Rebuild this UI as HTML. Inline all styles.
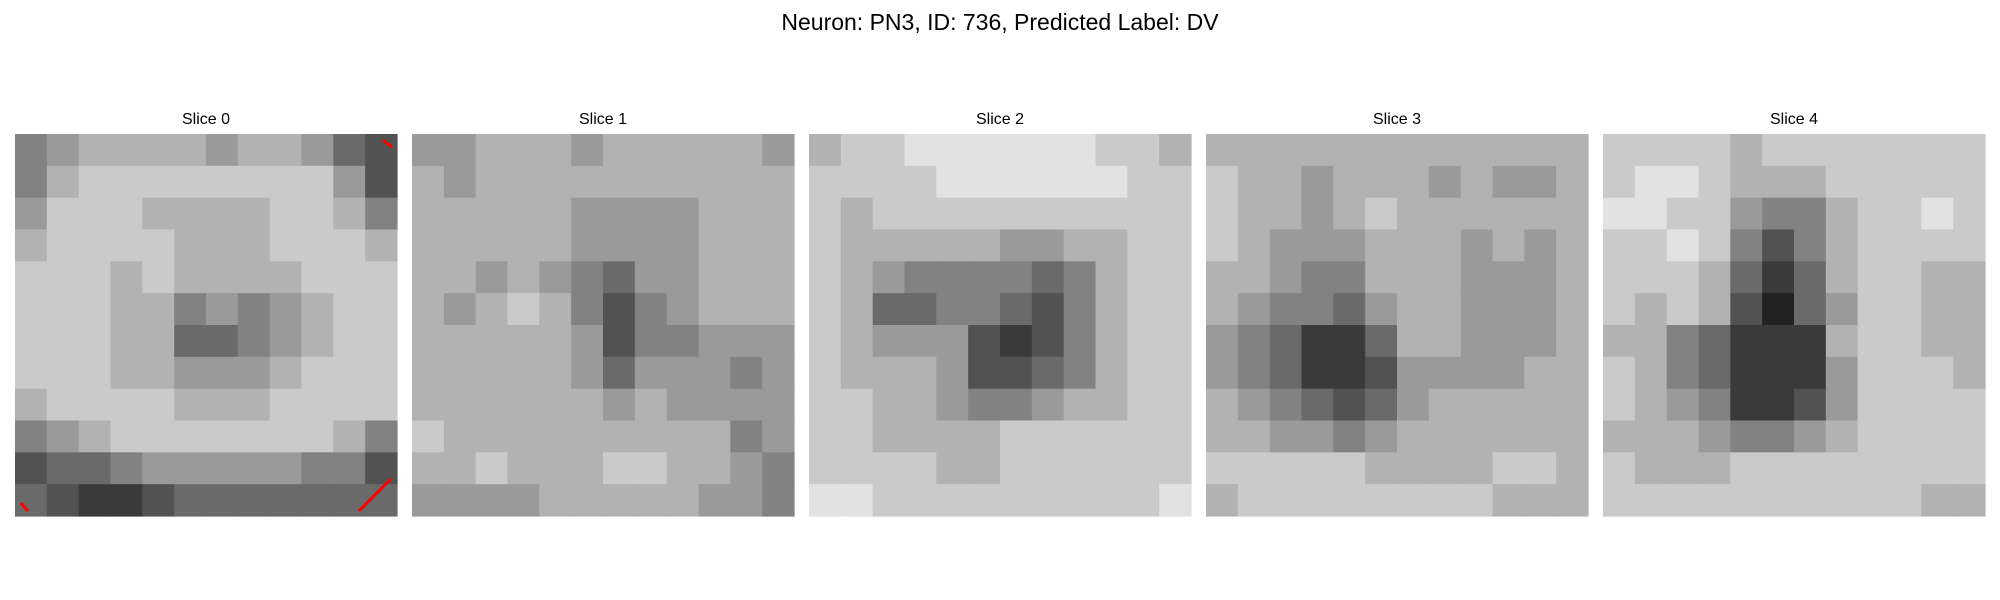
<!DOCTYPE html>
<html><head><meta charset="utf-8"><style>
html,body{margin:0;padding:0;background:#fff;width:2000px;height:600px;overflow:hidden}
</style></head><body>
<svg id="fig" width="2000" height="600" xmlns="http://www.w3.org/2000/svg" style="display:block">
<text x="1000" y="30" text-anchor="middle" font-family="Liberation Sans, DejaVu Sans, sans-serif" font-size="23" fill="#000">Neuron: PN3, ID: 736, Predicted Label: DV</text>
</svg>
<script>
const sliceTitles=["Slice 0","Slice 1","Slice 2","Slice 3","Slice 4"];
const slice0=[[5,6,7,7,7,7,6,7,7,6,4,3],[5,7,8,8,8,8,8,8,8,8,6,3],[6,8,8,8,7,7,7,7,8,8,7,5],[7,8,8,8,8,7,7,7,8,8,8,7],[8,8,8,7,8,7,7,7,7,8,8,8],[8,8,8,7,7,5,6,5,6,7,8,8],[8,8,8,7,7,4,4,5,6,7,8,8],[8,8,8,7,7,6,6,6,7,8,8,8],[7,8,8,8,8,7,7,7,8,8,8,8],[5,6,7,8,8,8,8,8,8,8,7,5],[3,4,4,5,6,6,6,6,6,5,5,3],[4,3,2,2,3,4,4,4,4,4,4,4]];
const slice1=[[6,6,7,7,7,6,7,7,7,7,7,6],[7,6,7,7,7,7,7,7,7,7,7,7],[7,7,7,7,7,6,6,6,6,7,7,7],[7,7,7,7,7,6,6,6,6,7,7,7],[7,7,6,7,6,5,4,6,6,7,7,7],[7,6,7,8,7,5,3,5,6,7,7,7],[7,7,7,7,7,6,3,5,5,6,6,6],[7,7,7,7,7,6,4,6,6,6,5,6],[7,7,7,7,7,7,6,7,6,6,6,6],[8,7,7,7,7,7,7,7,7,7,5,6],[7,7,8,7,7,7,8,8,7,7,6,5],[6,6,6,6,7,7,7,7,7,6,6,5]];
const slice2=[[7,8,8,9,9,9,9,9,9,8,8,7],[8,8,8,8,9,9,9,9,9,9,8,8],[8,7,8,8,8,8,8,8,8,8,8,8],[8,7,7,7,7,7,6,6,7,7,8,8],[8,7,6,5,5,5,5,4,5,7,8,8],[8,7,4,4,5,5,4,3,5,7,8,8],[8,7,6,6,6,3,2,3,5,7,8,8],[8,7,7,7,6,3,3,4,5,7,8,8],[8,8,7,7,6,5,5,6,7,7,8,8],[8,8,7,7,7,7,8,8,8,8,8,8],[8,8,8,8,7,7,8,8,8,8,8,8],[9,9,8,8,8,8,8,8,8,8,8,9]];
const slice3=[[7,7,7,7,7,7,7,7,7,7,7,7],[8,7,7,6,7,7,7,6,7,6,6,7],[8,7,7,6,7,8,7,7,7,7,7,7],[8,7,6,6,6,7,7,7,6,7,6,7],[7,7,6,5,5,7,7,7,6,6,6,7],[7,6,5,5,4,6,7,7,6,6,6,7],[6,5,4,2,2,4,7,7,6,6,6,7],[6,5,4,2,2,3,6,6,6,6,7,7],[7,6,5,4,3,4,6,7,7,7,7,7],[7,7,6,6,5,6,7,7,7,7,7,7],[8,8,8,8,8,7,7,7,7,8,8,7],[7,8,8,8,8,8,8,8,8,7,7,7]];
const slice4=[[8,8,8,8,7,8,8,8,8,8,8,8],[8,9,9,8,7,7,7,8,8,8,8,8],[9,9,8,8,6,5,5,7,8,8,9,8],[8,8,9,8,5,3,5,7,8,8,8,8],[8,8,8,7,4,2,4,7,8,8,7,7],[8,7,8,7,3,1,4,6,8,8,7,7],[7,7,5,4,2,2,2,7,8,8,7,7],[8,7,5,4,2,2,2,6,8,8,8,7],[8,7,6,5,2,2,3,6,8,8,8,8],[7,7,7,6,5,5,6,7,8,8,8,8],[8,7,7,7,8,8,8,8,8,8,8,8],[8,8,8,8,8,8,8,8,8,8,7,7]];
const slices=[slice0,slice1,slice2,slice3,slice4];
const NS="http://www.w3.org/2000/svg";
const svg=document.getElementById('fig');
const X0=15,STEP=397,W=382,Y0=134;
function gray(v){const g=Math.min(245,Math.round(10+v*24));return `rgb(${g},${g},${g})`;}
slices.forEach((grid,si)=>{
  const g=document.createElementNS(NS,'g');
  
  
  const px=X0+si*STEP;
  const t=document.createElementNS(NS,'text');
  
  
  t.setAttribute('x',px+W/2);t.setAttribute('y',124);
  t.setAttribute('text-anchor','middle');
  t.setAttribute('font-family','Liberation Sans, DejaVu Sans, sans-serif');
  t.setAttribute('font-size','16');
  t.textContent=sliceTitles[si];
  g.appendChild(t);
  const n=grid.length,cs=W/n;
  grid.forEach((row,r)=>row.forEach((v,c)=>{
    const rc=document.createElementNS(NS,'rect');
    
    
    rc.setAttribute('x',(px+c*cs).toFixed(2));
    rc.setAttribute('y',(Y0+r*cs).toFixed(2));
    rc.setAttribute('width',(cs+0.6).toFixed(2));
    rc.setAttribute('height',(cs+0.6).toFixed(2));
    rc.setAttribute('fill',gray(v));
    g.appendChild(rc);
  }));
  svg.appendChild(g);
});
const redLines=[[383,140,392,147],[391,479,359,511],[21,503,28,511]];
redLines.forEach(l=>{
  const ln=document.createElementNS(NS,'line');
  
  
  ln.setAttribute('x1',l[0]);ln.setAttribute('y1',l[1]);
  ln.setAttribute('x2',l[2]);ln.setAttribute('y2',l[3]);
  ln.setAttribute('stroke','#ff0000');ln.setAttribute('stroke-width','3');
  svg.appendChild(ln);
});
</script>
</body></html>
